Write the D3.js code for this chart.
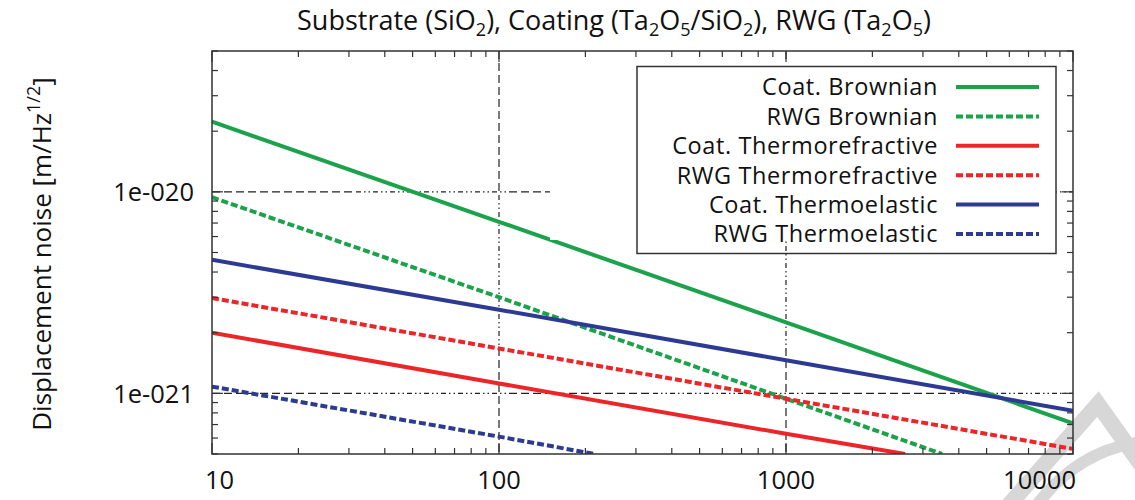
<!DOCTYPE html>
<html>
<head>
<meta charset="utf-8">
<script src="https://cdn.jsdelivr.net/npm/d3@7"></script>
<style>
  html, body { margin: 0; padding: 0; background: #fff; }
  svg { display: block; }
  text { font-family: "Open Sans", Lato, sans-serif; fill: #111; }
</style>
</head>
<body>
<svg id="chart" width="1135" height="500"></svg>
<script>
// Frequency axis ticks and labels
const freqTicks = [10, 100, 1000, 10000];
const freqTickLabels = ["10", "100", "1000", "10000"];
// Noise axis ticks and labels
const noiseTicks = [1e-21, 1e-20];
const noiseTickLabels = ["1e-021", "1e-020"];

// Series: [frequency (Hz), displacement noise (m/Hz^1/2)]
const coatBrownian          = [[10, 2.23e-20], [100, 7.1e-21], [1000, 2.25e-21], [10000, 7.1e-22]];
const rwgBrownian           = [[10, 9.4e-21],  [100, 3.0e-21], [1000, 9.4e-22],  [3500, 5.0e-22]];
const coatThermorefractive  = [[10, 2.0e-21],  [100, 1.12e-21], [1000, 6.3e-22], [2600, 5.0e-22]];
const rwgThermorefractive   = [[10, 2.97e-21], [100, 1.67e-21], [1000, 9.4e-22], [10000, 5.3e-22]];
const coatThermoelastic     = [[10, 4.6e-21],  [100, 2.6e-21], [1000, 1.46e-21], [10000, 8.2e-22]];
const rwgThermoelastic      = [[10, 1.08e-21], [100, 6.1e-22], [215, 5.0e-22]];

const seriesNames = ["Coat. Brownian", "RWG Brownian", "Coat. Thermorefractive",
                     "RWG Thermorefractive", "Coat. Thermoelastic", "RWG Thermoelastic"];
const seriesData = [coatBrownian, rwgBrownian, coatThermorefractive,
                    rwgThermorefractive, coatThermoelastic, rwgThermoelastic];
const seriesColors = ["#1ba24b", "#1ba24b", "#ec2529", "#ec2529", "#2c3a93", "#2c3a93"];
const seriesDashed = [false, true, false, true, false, true];

const svg = d3.select("#chart");
const L = 212, R = 1073, T = 51, B = 454;

const x = d3.scaleLog().domain([10, 10000]).range([L, R]);
const y = d3.scaleLog().domain([5e-22, 5e-20]).range([B, T]);

// faint watermark glyph in the lower-right corner
const wm = svg.append("g").attr("fill", "none").attr("stroke", "#d7d7d7");
wm.append("path").attr("d", "M1008,506 L1098,404 L1142,466")
  .attr("stroke-width", 16).attr("stroke-linejoin", "miter");
wm.append("path").attr("d", "M1036,506 Q1078,450 1142,442")
  .attr("stroke-width", 12);

// grid lines
const dashCycle = Array(12).fill("8,4").concat(Array(9).fill("5,3,1.5,3,1.5,3")).join(",");
const grid = svg.append("g").attr("stroke", "#222").attr("stroke-width", 1.2)
  .attr("fill", "none").attr("stroke-dasharray", dashCycle);
noiseTicks.forEach(v => {
  grid.append("line").attr("x1", L).attr("x2", R).attr("y1", y(v)).attr("y2", y(v));
});
[100, 1000].forEach(v => {
  grid.append("line").attr("x1", x(v)).attr("x2", x(v)).attr("y1", T).attr("y2", B);
});

// data lines
svg.append("clipPath").attr("id", "plotclip")
  .append("rect").attr("x", L).attr("y", T).attr("width", R - L).attr("height", B - T);
const line = d3.line().x(d => x(d[0])).y(d => y(d[1]));
const lines = svg.append("g").attr("clip-path", "url(#plotclip)");
seriesData.forEach((s, i) => {
  lines.append("path").datum(s).attr("d", line)
    .attr("fill", "none").attr("stroke", seriesColors[i]).attr("stroke-width", 4)
    .attr("stroke-dasharray", seriesDashed[i] ? "7,3" : null);
});

// key
svg.append("rect").attr("x", 550).attr("y", 63).attr("width", 506).attr("height", 177).attr("fill", "#fff");
svg.append("rect").attr("x", 637).attr("y", 66.5).attr("width", 419).attr("height", 187)
  .attr("fill", "none").attr("stroke", "#333").attr("stroke-width", 1.5);
const key = svg.append("g");
seriesNames.forEach((name, i) => {
  const cy = 87 + i * 29.4;
  key.append("text").attr("x", 938).attr("y", cy).attr("dy", "0.36em")
    .attr("text-anchor", "end").attr("font-size", 23.5).attr("letter-spacing", 0.6).text(name);
  key.append("line").attr("x1", 956).attr("x2", 1039).attr("y1", cy).attr("y2", cy)
    .attr("stroke", seriesColors[i]).attr("stroke-width", 4)
    .attr("stroke-dasharray", seriesDashed[i] ? "7,3" : null);
});

// axes frame and inward ticks
const axes = svg.append("g").attr("stroke", "#333").attr("fill", "none");
axes.append("rect").attr("x", L).attr("y", T).attr("width", R - L).attr("height", B - T)
  .attr("stroke-width", 1.5);
const xMinor = x.ticks().filter(v => !freqTicks.includes(v));
const yMinor = y.ticks().filter(v => !noiseTicks.includes(v));
const tickG = axes.append("g").attr("stroke-width", 1.2);
freqTicks.forEach(v => {
  tickG.append("line").attr("x1", x(v)).attr("x2", x(v)).attr("y1", B).attr("y2", B - 11);
  tickG.append("line").attr("x1", x(v)).attr("x2", x(v)).attr("y1", T).attr("y2", T + 11);
});
xMinor.forEach(v => {
  tickG.append("line").attr("x1", x(v)).attr("x2", x(v)).attr("y1", B).attr("y2", B - 6);
  tickG.append("line").attr("x1", x(v)).attr("x2", x(v)).attr("y1", T).attr("y2", T + 6);
});
noiseTicks.forEach(v => {
  tickG.append("line").attr("x1", L).attr("x2", L + 11).attr("y1", y(v)).attr("y2", y(v));
  tickG.append("line").attr("x1", R).attr("x2", R - 11).attr("y1", y(v)).attr("y2", y(v));
});
yMinor.forEach(v => {
  tickG.append("line").attr("x1", L).attr("x2", L + 6).attr("y1", y(v)).attr("y2", y(v));
  tickG.append("line").attr("x1", R).attr("x2", R - 6).attr("y1", y(v)).attr("y2", y(v));
});

// tick labels (end labels kept inside the page)
freqTicks.forEach((v, i) => {
  const last = i === freqTicks.length - 1, first = i === 0;
  svg.append("text")
    .attr("x", first ? x(v) - 7 : last ? x(v) + 3 : x(v))
    .attr("y", 489)
    .attr("text-anchor", first ? "start" : last ? "end" : "middle")
    .attr("font-size", 25.5).text(freqTickLabels[i]);
});
noiseTicks.forEach((v, i) => {
  svg.append("text").attr("x", 194).attr("y", y(v)).attr("dy", "0.36em").attr("text-anchor", "end")
    .attr("font-size", 25.5).text(noiseTickLabels[i]);
});

// axis title
const yl = svg.append("text").attr("transform", "translate(51,254) rotate(-90)")
  .attr("text-anchor", "middle").attr("font-size", 26);
yl.append("tspan").text("Displacement noise [m/Hz");
yl.append("tspan").attr("dy", -11).attr("font-size", 18).text("1/2");
yl.append("tspan").attr("dy", 11).text("]");

// chart title with chemical subscripts
const title = svg.append("text").attr("x", 614).attr("y", 30).attr("text-anchor", "middle")
  .attr("font-size", 27);
const parts = [["Substrate (SiO"], ["2", 1], ["), Coating (Ta"], ["2", 1], ["O"], ["5", 1],
               ["/SiO"], ["2", 1], ["), RWG (Ta"], ["2", 1], ["O"], ["5", 1], [")"]];
let down = false;
parts.forEach(p => {
  const t = title.append("tspan").text(p[0]);
  if (p[1] && !down) { t.attr("dy", 6).attr("font-size", 18); down = true; }
  else if (p[1]) { t.attr("font-size", 18); }
  else if (down) { t.attr("dy", -6); down = false; }
});
</script>
</body>
</html>
